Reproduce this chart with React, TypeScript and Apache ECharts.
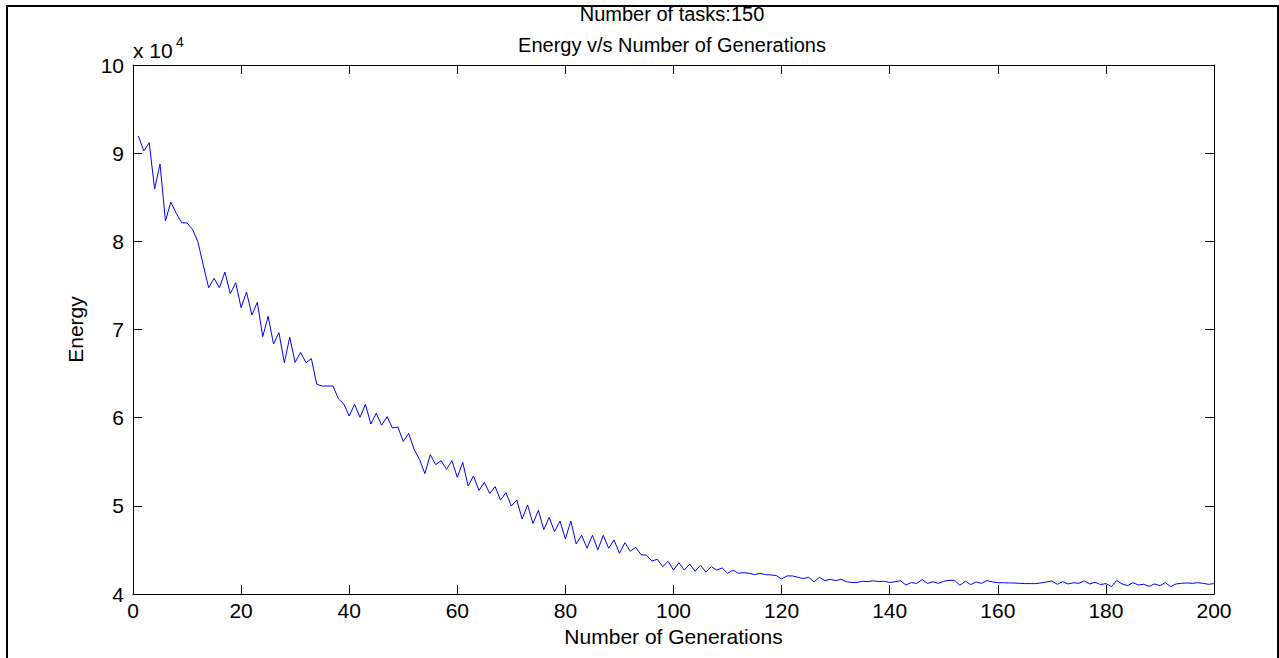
import React, { useEffect, useRef } from "react";
import * as echarts from "echarts";

// Generation numbers 1..200 and energy values (units: energy)
const energy: number[] = [
  91950, 90250, 91190, 85940, 88770, 82310, 84460, 83180, 82110, 82080,
  81370, 79960, 77300, 74740, 75800, 74740, 76520, 74060, 75310, 72470,
  74250, 71640, 73090, 69190, 71500, 68360, 69640, 66240, 69120, 66280,
  67410, 66240, 66690, 63780, 63590, 63590, 63590, 62150, 61550, 60190,
  61520, 60040, 61520, 59280, 60490, 59140, 60110, 58830, 58940, 57300,
  58220, 56410, 55280, 53650, 55800, 54670, 55120, 54140, 55120, 53240,
  54940, 52250, 53390, 51740, 52670, 51400, 52180, 50650, 51500, 49980,
  50660, 48510, 50100, 48000, 49500, 47300, 48700, 47070, 48280, 46240,
  48280, 45670, 46660, 45190, 46660, 45000, 46660, 45190, 46130, 44620,
  45820, 44840, 45300, 44460, 44400, 43740, 43940, 43100, 43710, 42720,
  43550, 42720, 43400, 42580, 43260, 42500, 43100, 42720, 42950, 42350,
  42720, 42350, 42420, 42350, 42200, 42350, 42200, 42160, 42100, 41700,
  42050, 42050, 41900, 41750, 41900, 41370, 41900, 41520, 41670, 41520,
  41670, 41400, 41300, 41300, 41450, 41400, 41500, 41400, 41450, 41300,
  41400, 41500, 41020, 41300, 41200, 41640, 41200, 41400, 41200, 41450,
  41550, 41550, 40990, 41450, 41070, 41370, 41210, 41520, 41370, 41280,
  41280, 41250, 41250, 41210, 41180, 41180, 41180, 41250, 41370, 41480,
  41100, 41400, 41140, 41280, 41210, 41480, 41140, 41330, 41070, 41180,
  40830, 41520, 41140, 40950, 41280, 41030, 41100, 40870, 41140, 40950,
  41280, 40830, 41140, 41210, 41250, 41210, 41280, 41210, 41100, 41180,
];
const generations: number[] = energy.map((_, i) => i + 1);

const titleLine1 = "Number of tasks:150";
const titleLine2 = "Energy v/s Number of Generations";
const xAxisName = "Number of Generations";
const yAxisName = "Energy";
const yScaleText = "x 10";
const yScaleExp = "4";

const FONT = "'Liberation Sans', Arial, sans-serif";

export default function App() {
  const ref = useRef<HTMLDivElement>(null);
  useEffect(() => {
    if (!ref.current) return;
    const chart = echarts.init(ref.current, null, { renderer: "svg" });
    const axisLine = { show: true, onZero: false, lineStyle: { color: "#000", width: 1 } };
    const tick = { show: true, inside: true, length: 9, lineStyle: { color: "#000", width: 1 } };
    const label = { color: "#000", fontSize: 21, fontFamily: FONT };
    chart.setOption({
      animation: false,
      backgroundColor: "#fff",
      grid: { left: 133, right: 65, top: 65, bottom: 64, containLabel: false },
      xAxis: [
        {
          type: "value", min: 0, max: 200, interval: 20, position: "bottom",
          axisLine, axisTick: tick, splitLine: { show: false },
          axisLabel: { ...label, margin: 6 },
          name: xAxisName, nameLocation: "middle", nameGap: 31,
          nameTextStyle: { color: "#000", fontSize: 21, fontFamily: FONT },
        },
        {
          type: "value", min: 0, max: 200, interval: 20, position: "top",
          axisLine, axisTick: tick, splitLine: { show: false },
          axisLabel: { show: false },
        },
      ],
      yAxis: [
        {
          type: "value", min: 40000, max: 100000, interval: 10000, position: "left",
          axisLine, axisTick: tick, splitLine: { show: false },
          axisLabel: { ...label, margin: 9, formatter: (v: number) => String(v / 10000) },
          name: yAxisName, nameLocation: "middle", nameGap: 47, nameRotate: 90,
          nameTextStyle: { color: "#000", fontSize: 21, fontFamily: FONT },
        },
        {
          type: "value", min: 40000, max: 100000, interval: 10000, position: "right",
          axisLine, axisTick: tick, splitLine: { show: false },
          axisLabel: { show: false },
        },
      ],
      series: [
        {
          type: "line",
          data: generations.map((g, i) => [g, energy[i]]),
          showSymbol: false,
          symbol: "none",
          lineStyle: { color: "#0000ff", width: 1 },
          silent: true,
        },
      ],
      graphic: [
        {
          type: "rect", silent: true,
          shape: { x: 7, y: 6, width: 1271, height: 700 },
          style: { fill: "none", stroke: "#000", lineWidth: 2 },
        },
        {
          type: "text", x: 672, y: 14,
          style: { text: titleLine1, fill: "#000", font: `20px ${FONT}`, textAlign: "center", textVerticalAlign: "middle" },
        },
        {
          type: "text", x: 672, y: 45,
          style: { text: titleLine2, fill: "#000", font: `20px ${FONT}`, textAlign: "center", textVerticalAlign: "middle" },
        },
        {
          type: "text", x: 133, y: 50,
          style: { text: yScaleText, fill: "#000", font: `21px ${FONT}`, textAlign: "left", textVerticalAlign: "middle" },
        },
        {
          type: "text", x: 176, y: 42,
          style: { text: yScaleExp, fill: "#000", font: `14px ${FONT}`, textAlign: "left", textVerticalAlign: "middle" },
        },
      ],
    });
    return () => chart.dispose();
  }, []);
  return (
    <div
      ref={ref}
      style={{ position: "fixed", left: 0, top: 0, width: 1279, height: 658, background: "#fff" }}
    />
  );
}
